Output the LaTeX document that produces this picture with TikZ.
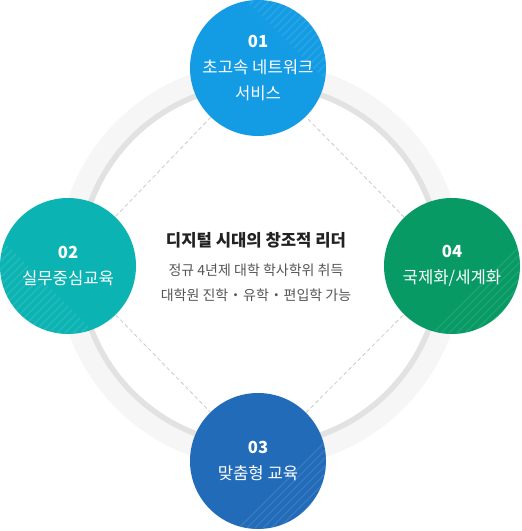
\documentclass[tikz,border=0pt]{standalone}
\usepackage{fontspec}
\setmainfont{Noto Sans CJK KR}
\definecolor{c01}{HTML}{139BE3}
\definecolor{c02}{HTML}{0CB3B3}
\definecolor{c03}{HTML}{226BB8}
\definecolor{c04}{HTML}{079A64}
\definecolor{ringlight}{HTML}{F6F6F6}
\definecolor{ringdark}{HTML}{E2E2E2}
\definecolor{dashgray}{HTML}{CBCBCB}
\definecolor{titlegray}{HTML}{222222}
\definecolor{subgray}{HTML}{555555}

\newcommand{\hatch}[3]{%
  \begin{scope}[shift={(#1,#2)}]
    \clip (0,0) circle (68);
    \clip #3;
    \foreach \k in {-18,...,18}
      \draw[hatchline] (\k*8-90,90) -- ++(180,-180);
  \end{scope}}

\begin{document}
\begin{tikzpicture}[x=0.75pt,y=-0.75pt,
  bubble/.style={circle,minimum size=102pt,inner sep=0pt,text=white,align=center,
    font=\fontsize{12.5}{19.5}\selectfont},
  hatchline/.style={white,opacity=0.09,line width=1.1pt},
  dashline/.style={dashgray,line width=0.6pt,dash pattern=on 3pt off 2pt}]
  \useasboundingbox (0,0) rectangle (521,531);
  % background ring
  \draw[ringlight,line width=15pt] (260,265) circle (193);
  \draw[ringdark,line width=4.2pt] (260,265) circle (180.5);
  % four circles
  \node[bubble,fill=c01] (n01) at (258,68) {};
  \node[bubble,fill=c02] (n02) at (68,266) {};
  \node[bubble,fill=c04] (n04) at (452,266) {};
  \node[bubble,fill=c03] (n03) at (258,461) {};
  \draw[dashline] (n01) -- (n02);
  \draw[dashline] (n02) -- (n03);
  \draw[dashline] (n03) -- (n04);
  \draw[dashline] (n04) -- (n01);
  \hatch{258}{68}{(-25,-80) -- (90,-80) -- (90,35) -- cycle}
  \hatch{68}{266}{(-90,-50) -- (-90,90) -- (50,90) -- cycle}
  \hatch{452}{266}{(-45,90) -- (90,90) -- (90,-45) -- cycle}
  \hatch{258}{461}{(-45,90) -- (90,90) -- (90,-45) -- cycle}
  \node[bubble] at (n01) {\textbf{01}\\초고속 네트워크\\서비스};
  \node[bubble] at (n02) {\textbf{02}\\실무중심교육};
  \node[bubble] at (n04) {\textbf{04}\\국제화/세계화};
  \node[bubble] at (n03) {\textbf{03}\\맞춤형 교육};
  % center text
  \node[titlegray,font=\fontsize{12.5}{15}\selectfont\bfseries] (vision) at (256,240) {디지털 시대의 창조적 리더};
  \node[subgray,font=\fontsize{10.5}{13}\selectfont] (goal1) at (256,270) {정규 4년제 대학 학사학위 취득};
  \node[subgray,font=\fontsize{10.5}{13}\selectfont] (goal2) at (256,295) {대학원 진학 \textbf{·} 유학 \textbf{·} 편입학 가능};
\end{tikzpicture}
\end{document}
